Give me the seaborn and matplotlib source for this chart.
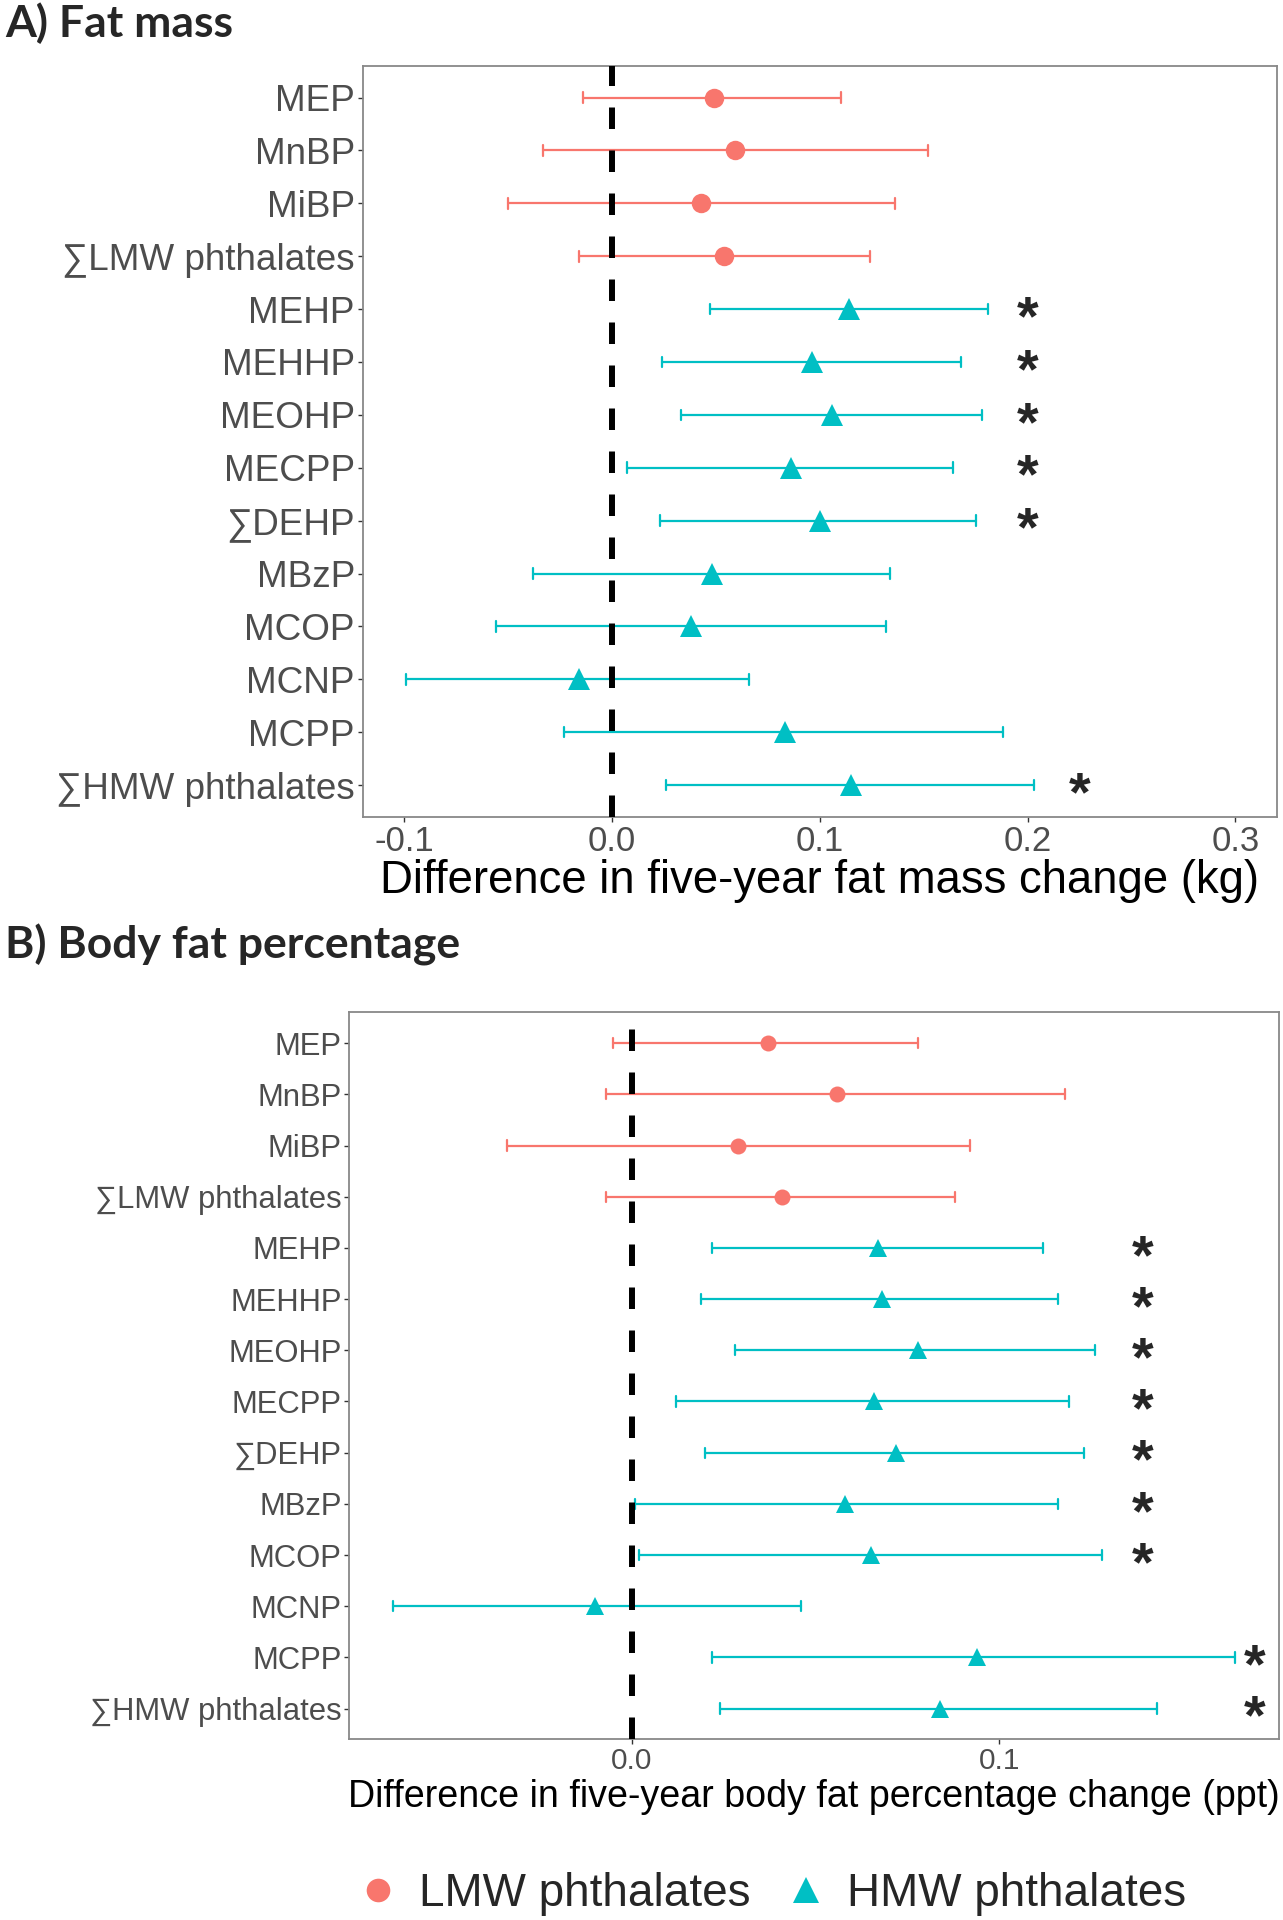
import matplotlib
matplotlib.use("Agg")
import matplotlib.pyplot as plt
from matplotlib.lines import Line2D
from matplotlib.transforms import offset_copy
import seaborn as sns
import pandas as pd

exposures = ["MEP", "MnBP", "MiBP", "∑LMW phthalates", "MEHP", "MEHHP", "MEOHP",
             "MECPP", "∑DEHP", "MBzP", "MCOP", "MCNP", "MCPP", "∑HMW phthalates"]
groups = ["LMW phthalates"] * 4 + ["HMW phthalates"] * 10
hue_order = ["LMW phthalates", "HMW phthalates"]

# A) fat mass (kg)
fat_est = [0.049, 0.059, 0.043, 0.054, 0.114, 0.096, 0.106, 0.086, 0.100, 0.048, 0.038, -0.016, 0.083, 0.115]
fat_low = [-0.014, -0.033, -0.050, -0.016, 0.047, 0.024, 0.033, 0.007, 0.023, -0.038, -0.056, -0.099, -0.023, 0.026]
fat_high = [0.110, 0.152, 0.136, 0.124, 0.181, 0.168, 0.178, 0.164, 0.175, 0.134, 0.132, 0.066, 0.188, 0.203]
fat_star = [None] * 4 + [0.200] * 5 + [None] * 4 + [0.225]

# B) body fat percentage (ppt)
pct_est = [0.037, 0.056, 0.029, 0.041, 0.067, 0.068, 0.078, 0.066, 0.072, 0.058, 0.065, -0.010, 0.094, 0.084]
pct_low = [-0.005, -0.007, -0.034, -0.007, 0.022, 0.019, 0.028, 0.012, 0.020, 0.001, 0.002, -0.065, 0.022, 0.024]
pct_high = [0.078, 0.118, 0.092, 0.088, 0.112, 0.116, 0.126, 0.119, 0.123, 0.116, 0.128, 0.046, 0.164, 0.143]
pct_star = [None] * 4 + [0.139] * 7 + [None] + [0.1695] * 2

palette = {"LMW phthalates": "#F8766D", "HMW phthalates": "#00BFC4"}
markers = {"LMW phthalates": "o", "HMW phthalates": "^"}

sns.set_style("white")
plt.rcParams["font.family"] = ["Liberation Sans", "DejaVu Sans"]


def long_table(est, low, high):
    rows = []
    for name, grp, e, lo, hi in zip(exposures, groups, est, low, high):
        for v in (lo, e, hi):
            rows.append({"exposure": name, "group": grp, "value": v})
    return pd.DataFrame(rows)


def draw_panel(ax, est, low, high, stars, xlim, xticks, xlabel, ms, ytick_fs, xtick_fs,
               xlab_fs, labelpad):
    df = long_table(est, low, high)
    # one call per group so circles and triangles can get their own size
    for grp in hue_order:
        sns.pointplot(data=df[df["group"] == grp], x="value", y="exposure", hue="group",
                      order=exposures, hue_order=hue_order, palette=palette,
                      markers=[markers[g] for g in hue_order], linestyle="none",
                      estimator="median", errorbar=lambda v: (v.min(), v.max()),
                      capsize=0.2, err_kws={"linewidth": 1.6}, markersize=ms[grp],
                      markeredgewidth=0, legend=False, ax=ax)
    ax.axvline(0, color="black", lw=4.3, linestyle=(0, (3.6, 3.6)), zorder=3)

    star_tr = offset_copy(ax.transData, fig=ax.figure, y=-11, units="dots")
    for i, s in enumerate(stars):
        if s is not None:
            ax.text(s, i, "*", fontsize=40, fontweight="bold", ha="center", va="center",
                    transform=star_tr)

    ax.set_xlim(*xlim)
    ax.set_ylim(len(exposures) - 0.4, -0.6)
    ax.set_xticks(xticks)
    ax.set_xticklabels([f"{t:.1f}" for t in xticks])
    ax.set_ylabel("")
    ax.set_xlabel(xlabel, fontsize=xlab_fs, color="black", labelpad=labelpad)
    ax.tick_params(axis="y", labelsize=ytick_fs, labelcolor="#4D4D4D", length=3.6,
                   width=1, color="#333333", pad=2, left=True)
    ax.tick_params(axis="x", labelsize=xtick_fs, labelcolor="#4D4D4D", length=3.6,
                   width=1, color="#333333", pad=2, bottom=True)
    for sp in ax.spines.values():
        sp.set_visible(True)
        sp.set_color("#888888")
        sp.set_linewidth(1.3)
    ax.grid(False)


fig = plt.figure(figsize=(12.83, 19.20), dpi=100)

ax_a = fig.add_axes([0.2827, 0.5746, 0.7126, 0.3911])
draw_panel(ax_a, fat_est, fat_low, fat_high, fat_star, (-0.12, 0.32),
           [-0.1, 0.0, 0.1, 0.2, 0.3], "Difference in five-year fat mass change (kg)",
           ms={"LMW phthalates": 14, "HMW phthalates": 16}, ytick_fs=26.6, xtick_fs=25,
           xlab_fs=32.8, labelpad=1)

ax_b = fig.add_axes([0.2724, 0.0941, 0.7243, 0.3786])
draw_panel(ax_b, pct_est, pct_low, pct_high, pct_star, (-0.0767, 0.176),
           [0.0, 0.1], "Difference in five-year body fat percentage change (ppt)",
           ms={"LMW phthalates": 11.5, "HMW phthalates": 12.5}, ytick_fs=22.3, xtick_fs=21.5,
           xlab_fs=27.1, labelpad=3)

fig.text(0.004, 1 - 37 / 1920, "A) Fat mass", fontsize=32, fontweight="bold",
         family=["Lato", "DejaVu Sans"], va="baseline", ha="left")
fig.text(0.004, 1 - 958 / 1920, "B) Body fat percentage", fontsize=32, fontweight="bold",
         family=["Lato", "DejaVu Sans"], va="baseline", ha="left")

handles = [Line2D([], [], linestyle="none", marker=markers[g], markersize=17 if g == "LMW phthalates" else 19,
                  color=palette[g], markeredgewidth=0) for g in hue_order]
fig.legend(handles, hue_order, loc="center", bbox_to_anchor=(0.599, 1 - 1894 / 1920),
           ncol=2, frameon=False, fontsize=33, handletextpad=0.3, columnspacing=0.6,
           handlelength=1.2)

fig.savefig("out.png", dpi=100)
